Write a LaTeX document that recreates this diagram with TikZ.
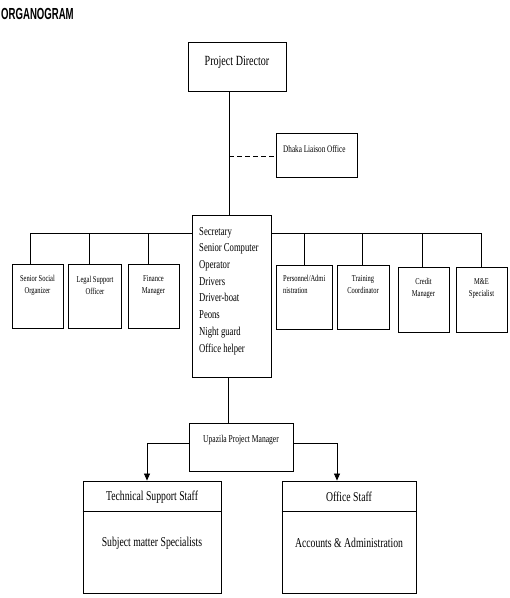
\documentclass[tikz,border=0pt]{standalone}
\usepackage{fontspec}
\setmainfont{Liberation Serif}[FakeStretch=0.72]
\newfontfamily\titlefont{Liberation Sans}[FakeStretch=0.6]
\usetikzlibrary{arrows.meta}
\begin{document}
\begin{tikzpicture}[x=1pt,y=-1pt,
  box/.style={draw, line width=0.9pt, fill=white, inner sep=0pt},
  conn/.style={line width=0.7pt},
  arr/.style={line width=0.7pt, -{Triangle[length=7pt,width=6pt]}},
  lbl/.style={inner sep=0pt, align=center},
  small/.style={inner sep=0pt, align=center, font=\fontsize{9}{12}\selectfont}]
\useasboundingbox (0,0) rectangle (510,598);
% title
\node[inner sep=0pt, anchor=west, font=\titlefont\fontsize{16}{18}\selectfont\bfseries] (title) at (1,14) {ORGANOGRAM};
% boxes
\node[box, minimum width=98pt, minimum height=49pt] (pd) at (237,66.5) {};
\node[lbl, font=\fontsize{14}{16}\selectfont] (pdT) at (237,62) {Project Director};
\node[box, minimum width=81pt, minimum height=44pt] (dh) at (316.5,155) {};
\node[inner sep=0pt, anchor=west, font=\fontsize{10}{12}\selectfont] (dhT) at (283,149) {Dhaka Liaison Office};
\node[box, minimum width=79pt, minimum height=162pt] (sec) at (231.5,296) {};
\node[inner sep=0pt, anchor=north west, align=left, font=\fontsize{12}{16.7}\selectfont] (secT) at (199,227)
  {Secretary\\Senior Computer\\Operator\\Drivers\\Driver-boat\\Peons\\Night guard\\Office helper};
\node[box, minimum width=51pt, minimum height=64pt] (sso) at (37.5,296) {};
\node[small] (ssoT) at (37.5,285) {Senior Social\\Organizer};
\node[box, minimum width=53pt, minimum height=64pt] (lso) at (95,296) {};
\node[small] (lsoT) at (95,285) {Legal Support\\Officer};
\node[box, minimum width=51pt, minimum height=64pt] (fm) at (153.5,296) {};
\node[small] (fmT) at (153.5,285) {Finance\\Manager};
\node[box, minimum width=56pt, minimum height=64pt] (pa) at (304,297) {};
\node[small, anchor=west, align=left] (paT) at (283,284.5) {Personnel/Admi\\nistration};
\node[box, minimum width=52pt, minimum height=64pt] (tc) at (363,297) {};
\node[small] (tcT) at (363,284.5) {Training\\Coordinator};
\node[box, minimum width=51pt, minimum height=65pt] (cm) at (423.5,299.5) {};
\node[small] (cmT) at (423.5,288) {Credit\\Manager};
\node[box, minimum width=51pt, minimum height=65pt] (me) at (481.5,299.5) {};
\node[small] (meT) at (481.5,288) {M\&E\\Specialist};
\node[box, minimum width=104pt, minimum height=48pt] (up) at (241,447) {};
\node[lbl, font=\fontsize{10.5}{12}\selectfont] (upT) at (241,440) {Upazila Project Manager};
\node[box, minimum width=138pt, minimum height=112pt] (tss) at (152,537) {};
\node[lbl, font=\fontsize{13.5}{16}\selectfont] (tssT) at (152,497) {Technical Support Staff};
\node[lbl, font=\fontsize{13.5}{16}\selectfont] (tssB) at (152,543) {Subject matter Specialists};
\node[box, minimum width=134pt, minimum height=112pt] (os) at (349,537) {};
\node[lbl, font=\fontsize{13.5}{16}\selectfont] (osT) at (349,497) {Office Staff};
\node[lbl, font=\fontsize{13.5}{16}\selectfont] (osB) at (349,543) {Accounts \& Administration};
% dividers
\coordinate (dv) at (0,511);
\draw[line width=0.9pt] (tss.west |- dv) -- (tss.east |- dv);
\draw[line width=0.9pt] (os.west |- dv) -- (os.east |- dv);
% spine
\coordinate (j1) at (229,156);
\draw[conn] (j1 |- pd.south) -- (j1 |- sec.north);
\draw[conn, dashed, dash pattern=on 5pt off 3pt] (j1) -- (dh.west |- j1);
% bus
\coordinate (busL) at (30,233);
\coordinate (busR) at (482,233);
\draw[conn] (busL) -- (sec.west |- busL);
\draw[conn] (sec.east |- busL) -- (busR);
\coordinate (d1) at (30,233);
\coordinate (d2) at (89,233);
\coordinate (d3) at (148,233);
\coordinate (d4) at (304,233);
\coordinate (d5) at (362,233);
\coordinate (d6) at (422,233);
\coordinate (d7) at (481,233);
\draw[conn] (d1) -- (d1 |- sso.north);
\draw[conn] (d2) -- (d2 |- lso.north);
\draw[conn] (d3) -- (d3 |- fm.north);
\draw[conn] (d4) -- (d4 |- pa.north);
\draw[conn] (d5) -- (d5 |- tc.north);
\draw[conn] (d6) -- (d6 |- cm.north);
\draw[conn] (d7) -- (d7 |- me.north);
% lower
\coordinate (j2) at (228,400);
\draw[conn] (j2 |- sec.south) -- (j2 |- up.north);
\coordinate (aL) at (147,481);
\coordinate (aR) at (337,481);
\draw[arr] ([yshift=4pt]up.west) -| (aL |- tss.north);
\draw[arr] ([yshift=4pt]up.east) -| (aR |- os.north);
\end{tikzpicture}
\end{document}
